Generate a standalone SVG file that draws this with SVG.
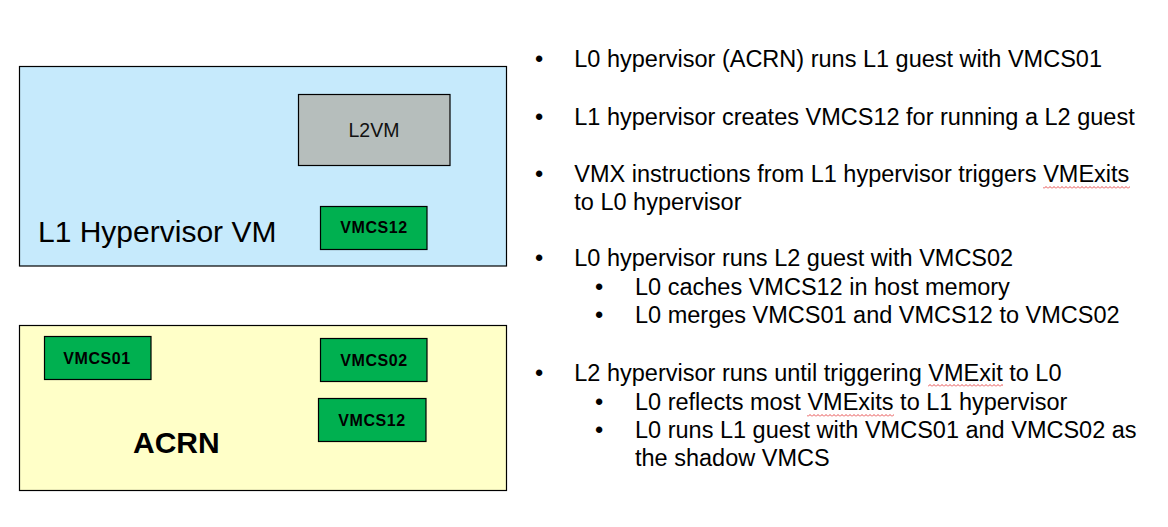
<svg xmlns="http://www.w3.org/2000/svg" width="1168" height="527" viewBox="0 0 1168 527">
  <style>
    .box { stroke: #000; stroke-width: 1.2; }
    .l1 { fill: #C6EAFC; }
    .l0 { fill: #FFFFC8; }
    .vm { fill: #B6BEBC; }
    .vmcs { fill: #00B050; }
    .vt { font-family: "Liberation Sans", Arial, sans-serif; font-weight: bold; font-size: 16px; letter-spacing: 0.6px; fill: #000; text-anchor: middle; }
    .bt { font-family: "Liberation Sans", Arial, sans-serif; font-size: 23.5px; fill: #000; }
  </style>
  <defs>
    <pattern id="squig" width="4" height="3" patternUnits="userSpaceOnUse">
      <polyline points="0,2.5 2,0.5 4,2.5" fill="none" stroke="#E02020" stroke-width="0.8"/>
    </pattern>
  </defs>
  <rect width="1168" height="527" fill="#FFFFFF"/>

  <g id="l1-hypervisor-vm">
    <rect class="box l1" x="19.5" y="66.5" width="487" height="199.5"/>
    <text x="38" y="242" font-family="Liberation Sans, Arial, sans-serif" font-size="30" fill="#000">L1 Hypervisor VM</text>
  </g>
  <g id="l2vm">
    <rect class="box vm" x="298.5" y="94.5" width="151.5" height="71"/>
    <text x="374" y="137" font-family="Liberation Sans, Arial, sans-serif" font-size="19.5" fill="#111" text-anchor="middle">L2VM</text>
  </g>
  <g id="vmcs12-l1">
    <rect class="box vmcs" x="320.5" y="206.5" width="106.5" height="43"/>
    <text class="vt" x="374" y="233">VMCS12</text>
  </g>

  <g id="acrn">
    <rect class="box l0" x="19.5" y="325.5" width="487" height="165"/>
    <text x="133" y="453" font-family="Liberation Sans, Arial, sans-serif" font-size="30" font-weight="bold" fill="#000">ACRN</text>
  </g>
  <g id="vmcs01">
    <rect class="box vmcs" x="44.5" y="336.5" width="106.5" height="43"/>
    <text class="vt" x="97" y="363.5">VMCS01</text>
  </g>
  <g id="vmcs02">
    <rect class="box vmcs" x="320.5" y="338.5" width="106.5" height="43"/>
    <text class="vt" x="374" y="365.5">VMCS02</text>
  </g>
  <g id="vmcs12-l0">
    <rect class="box vmcs" x="318.5" y="398.5" width="107.5" height="43"/>
    <text class="vt" x="372" y="425.5">VMCS12</text>
  </g>

  <g id="connectors"></g>

  <g id="bullets">
    <text class="bt" x="535" y="67">•</text>
    <text class="bt" x="574.3" y="67">L0 hypervisor (ACRN) runs L1 guest with VMCS01</text>
    <text class="bt" x="535" y="125">•</text>
    <text class="bt" x="574.3" y="125">L1 hypervisor creates VMCS12 for running a L2 guest</text>
    <text class="bt" x="535" y="182">•</text>
    <text class="bt" x="574.3" y="182">VMX instructions from L1 hypervisor triggers VMExits</text>
    <text class="bt" x="574.3" y="210">to L0 hypervisor</text>
    <text class="bt" x="535" y="266">•</text>
    <text class="bt" x="574.3" y="266">L0 hypervisor runs L2 guest with VMCS02</text>
    <text class="bt" x="595" y="295">•</text>
    <text class="bt" x="635" y="295">L0 caches VMCS12 in host memory</text>
    <text class="bt" x="595" y="323">•</text>
    <text class="bt" x="635" y="323">L0 merges VMCS01 and VMCS12 to VMCS02</text>
    <text class="bt" x="535" y="381">•</text>
    <text class="bt" x="574.3" y="381">L2 hypervisor runs until triggering VMExit to L0</text>
    <text class="bt" x="595" y="409.5">•</text>
    <text class="bt" x="635" y="409.5">L0 reflects most VMExits to L1 hypervisor</text>
    <text class="bt" x="595" y="438">•</text>
    <text class="bt" x="635" y="438">L0 runs L1 guest with VMCS01 and VMCS02 as</text>
    <text class="bt" x="635" y="466">the shadow VMCS</text>
  </g>

  <g id="spellcheck-underlines">
    <rect x="1043" y="186" width="87" height="3" fill="url(#squig)"/>
    <rect x="928" y="384" width="75" height="3" fill="url(#squig)"/>
    <rect x="807" y="414" width="87" height="3" fill="url(#squig)"/>
  </g>
</svg>
